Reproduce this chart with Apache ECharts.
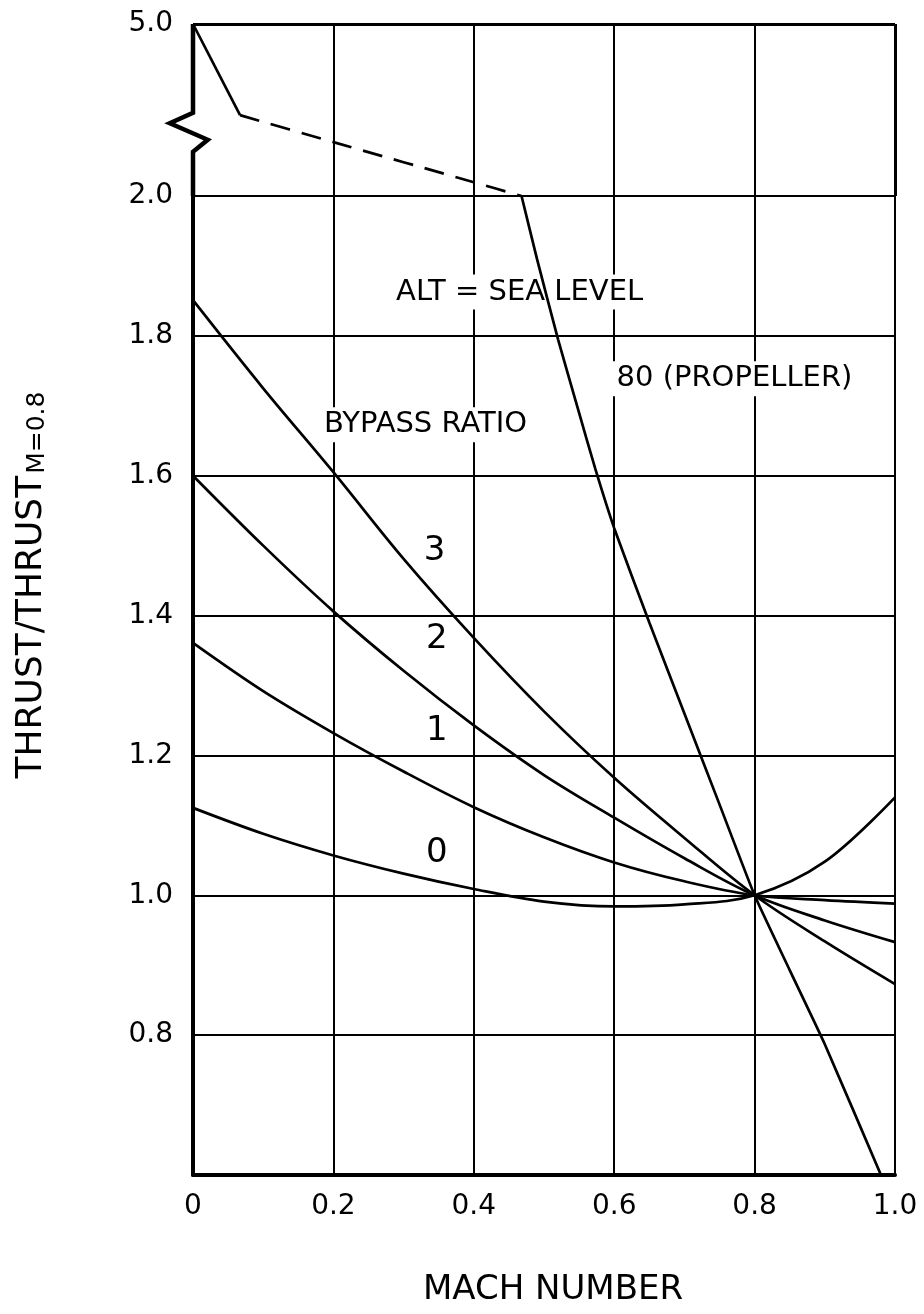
<!DOCTYPE html>
<html><head><meta charset="utf-8">
<script src="https://cdn.jsdelivr.net/npm/echarts@6/dist/echarts.min.js"></script>
<style>html,body{margin:0;padding:0;background:#fff}#c{width:924px;height:1314px}</style>
</head><body><div id="c"></div>
<script>
// ---- data ----
const mach = [0, 0.1, 0.2, 0.3, 0.4, 0.5, 0.6, 0.7, 0.8, 0.9, 1.0];
const bypass0 = [1.125, 1.088, 1.057, 1.031, 1.009, 0.991, 0.984, 0.987, 1.0, 1.048, 1.14];
const bypass1 = [1.361, 1.292, 1.232, 1.177, 1.126, 1.083, 1.047, 1.02, 1.0, 0.993, 0.988];
const bypass2 = [1.60, 1.50, 1.406, 1.321, 1.243, 1.172, 1.111, 1.053, 1.0, 0.964, 0.933];
const bypass3 = [1.851, 1.725, 1.605, 1.481, 1.368, 1.263, 1.168, 1.082, 1.0, 0.934, 0.873];

const propTopSolidMach = [0, 0.067];
const propTopSolidVal = [5.0, 3.41];
const propDashMach = [0.067, 0.2, 0.4, 0.468];
const propDashVal = [3.41, 2.94, 2.24, 2.0];
const propMach = [0.468, 0.49, 0.52, 0.55, 0.573, 0.6, 0.65, 0.7, 0.75, 0.8, 0.85, 0.9, 0.98];
const propVal = [2.0, 1.91, 1.795, 1.69, 1.61, 1.525, 1.39, 1.26, 1.13, 1.0, 0.893, 0.787, 0.6];

const xTicks = [0, 0.2, 0.4, 0.6, 0.8, 1.0];
const yUpperTick = 5.0;

// axis-break marker (decoration on the left axis, in upper-panel data units)
const breakMach = [0, 0, -0.033, 0.021, 0, 0];
const breakVal = [5.0, 3.45, 3.27, 2.98, 2.77, 2.0];

const annoText = ['ALT = SEA LEVEL', 'BYPASS RATIO', '80 (PROPELLER)', '3', '2', '1', '0'];
const annoMach = [0.466, 0.332, 0.772, 0.345, 0.348, 0.348, 0.348];
const annoVal = [1.862, 1.672, 1.738, 1.492, 1.366, 1.234, 1.06];
const annoSize = [29, 29, 29, 34, 34, 34, 34];

// ---- chart ----
const FONT = 'DejaVu Sans';
const zip = (xs, ys) => xs.map((x, i) => [x, ys[i]]);
const chart = echarts.init(document.getElementById('c'), null, {renderer: 'canvas'});
const curveStyle = {color: '#000', width: 2.7};

function bypassSeries(vals) {
  return {type: 'line', xAxisIndex: 1, yAxisIndex: 1, data: zip(mach, vals),
    symbol: 'none', smooth: 0.35, lineStyle: curveStyle, silent: true, z: 3};
}

const titleStyle = {text: '{a|THRUST/THRUST}{b|M=0.8}', align: 'center', verticalAlign: 'middle',
  rich: {
    a: {fontSize: 36, fontFamily: FONT, fill: '#000', lineHeight: 36, padding: [0, 0, 10, 0], verticalAlign: 'top'},
    b: {fontSize: 25, fontFamily: FONT, fill: '#000', lineHeight: 26, verticalAlign: 'bottom', padding: [0, 0, 0, 2]}
  }};

const option = {
  backgroundColor: '#fff',
  animation: false,
  textStyle: {fontFamily: FONT, color: '#000'},
  grid: [
    {left: 193, right: 29, top: 24, height: 172},
    {left: 193, right: 29, top: 196, bottom: 139}
  ],
  xAxis: [
    {gridIndex: 0, type: 'value', min: 0, max: 1, show: false},
    {gridIndex: 1, type: 'value', min: 0, max: 1, interval: 0.2,
      axisLine: {show: true, onZero: false, lineStyle: {color: '#000', width: 4}},
      axisTick: {show: false},
      axisLabel: {color: '#000', fontSize: 28, margin: 18, fontFamily: FONT,
        formatter: v => (v === 0 ? '0' : v.toFixed(1))},
      splitLine: {show: true, lineStyle: {color: '#000', width: 2}}}
  ],
  yAxis: [
    {gridIndex: 0, type: 'value', min: 2, max: 5,
      axisLine: {show: false}, axisTick: {show: false}, splitLine: {show: false},
      axisLabel: {color: '#000', fontSize: 28, margin: 20, fontFamily: FONT,
        formatter: v => (Math.abs(v - yUpperTick) < 1e-6 ? yUpperTick.toFixed(1) : '')}},
    {gridIndex: 1, type: 'value', min: 0.6, max: 2.0, interval: 0.2,
      axisLine: {show: true, onZero: false, lineStyle: {color: '#000', width: 4}},
      axisTick: {show: false},
      splitLine: {show: true, lineStyle: {color: '#000', width: 2}},
      axisLabel: {color: '#000', fontSize: 28, margin: 20, fontFamily: FONT,
        formatter: v => (Math.abs(v - 0.6) < 1e-6 ? '' : v.toFixed(1))}}
  ],
  series: [
    // upper panel: grid lines + border drawn as markLines, solid propeller start
    {type: 'line', xAxisIndex: 0, yAxisIndex: 0, data: zip(propTopSolidMach, propTopSolidVal),
      symbol: 'none', lineStyle: curveStyle, silent: true, z: 3,
      markLine: {silent: true, symbol: 'none', label: {show: false},
        lineStyle: {color: '#000', width: 2, type: 'solid'},
        data: xTicks.filter(v => v > 0).map(v => ({xAxis: v, lineStyle: {width: v === 1 ? 3 : 2}}))
          .concat([{yAxis: yUpperTick, lineStyle: {width: 3}}])}},
    {type: 'line', xAxisIndex: 0, yAxisIndex: 0, data: zip(propDashMach, propDashVal),
      symbol: 'none', smooth: 0.2, lineStyle: {color: '#000', width: 2.7, type: [20, 12]}, silent: true, z: 3},
    // lower panel curves
    bypassSeries(bypass0),
    bypassSeries(bypass1),
    bypassSeries(bypass2),
    bypassSeries(bypass3),
    {type: 'line', xAxisIndex: 1, yAxisIndex: 1, data: zip(propMach, propVal),
      symbol: 'none', smooth: 0.15, lineStyle: curveStyle, silent: true, z: 3},
    // annotations
    {type: 'scatter', xAxisIndex: 1, yAxisIndex: 1, symbolSize: 1, z: 1, silent: true,
      itemStyle: {color: '#fff', opacity: 1},
      label: {show: true, position: [0, 0], align: 'center', verticalAlign: 'middle',
        formatter: '{b}', color: '#000', opacity: 1, fontFamily: FONT, textBorderWidth: 0,
        backgroundColor: '#fff', padding: [3, 5]},
      emphasis: {disabled: true},
      data: annoText.map((t, i) => ({name: t, value: [annoMach[i], annoVal[i]],
        label: {fontSize: annoSize[i], color: '#000'}}))}
  ],
  graphic: [
    {type: 'text', x: 32, y: 585, rotation: Math.PI / 2, silent: true, style: titleStyle},
    {type: 'text', x: 553, y: 1290, silent: true,
      style: {text: 'MACH NUMBER', fontSize: 34, fontFamily: FONT, fill: '#000', align: 'center', verticalAlign: 'middle'}}
  ]
};
chart.setOption(option);

// axis-break marker on the left axis, placed through the upper panel's scales
const breakPts = zip(breakMach, breakVal).map(p => chart.convertToPixel({gridIndex: 0}, p));
chart.setOption({graphic: [
  option.graphic[0],
  option.graphic[1],
  {type: 'polyline', silent: true, z: 10, shape: {points: breakPts},
    style: {stroke: '#000', lineWidth: 4.5, fill: null, lineJoin: 'miter'}}
]});
</script></body></html>
